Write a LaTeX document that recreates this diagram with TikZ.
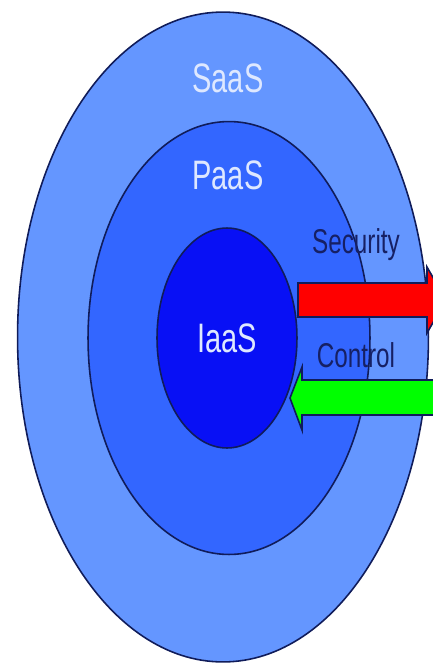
\documentclass[tikz,border=0pt]{standalone}
\usepackage{fontspec}
\setmainfont{Liberation Sans}
\usepackage{tikz}
\usetikzlibrary{positioning,shapes.geometric}
\definecolor{saasblue}{RGB}{100,150,255}
\definecolor{paasblue}{RGB}{51,102,255}
\definecolor{iaasblue}{RGB}{8,16,245}
\definecolor{rim}{RGB}{16,28,90}
\definecolor{pale}{RGB}{222,232,255}
\definecolor{navy}{RGB}{22,32,100}
\newcommand{\talltext}[1]{\scalebox{1}[1.42]{#1}}
\tikzset{
    layer/.style = {
        draw=rim,
        shape=ellipse,
        inner sep=0pt,
        outer sep=0pt,
        line width=0.9pt
    },
    title/.style = {
        text=pale,
        font=\fontsize{16.5}{19}\selectfont,
        inner sep=0pt
    },
    flow/.style = {
        text=navy,
        font=\fontsize{13.8}{16}\selectfont,
        inner sep=0pt
    },
    bigarrow/.style = {
        draw=rim,
        line width=0.9pt,
        line join=miter
    },
}
\begin{document}
\begin{tikzpicture}[x=0.02cm,y=-0.02cm]
                \useasboundingbox[fill=white] (0,0) rectangle (433,664);

                \node[layer,fill=saasblue,minimum width=8.22cm,minimum height=13cm] (saas) at (223,337) {};
                \node[layer,fill=paasblue,minimum width=5.64cm,minimum height=8.66cm] (paas) at (229,338) {};
                \node[layer,fill=iaasblue,minimum width=2.8cm,minimum height=4.4cm,title] (iaas) at (227,338) {};

                \node[title] (saaslbl) at (228,78) {\talltext{SaaS}};
                \node[title] (paaslbl) at (228,175) {\talltext{PaaS}};
                \node[title] (iaaslbl) at (iaas) {\talltext{IaaS}};

                \node[flow] (seclbl) at (356,245) {\talltext{Security}};
                \node[flow] (ctrllbl) at (356,355) {\talltext{Control}};

                % security goes out, control comes in
                \begin{scope}
                \clip (0,0) rectangle (433,664);
                \path[bigarrow,fill=red] (298,283) -- (427,283) -- (427,267) -- (446,300)
                    -- (427,333) -- (427,317) -- (298,317) -- cycle;
                \path[bigarrow,fill=green] (445,380) -- (302,380) -- (302,367) -- (290,398)
                    -- (302,430) -- (302,415) -- (445,415) -- cycle;
                \end{scope}
            \end{tikzpicture}
\end{document}
